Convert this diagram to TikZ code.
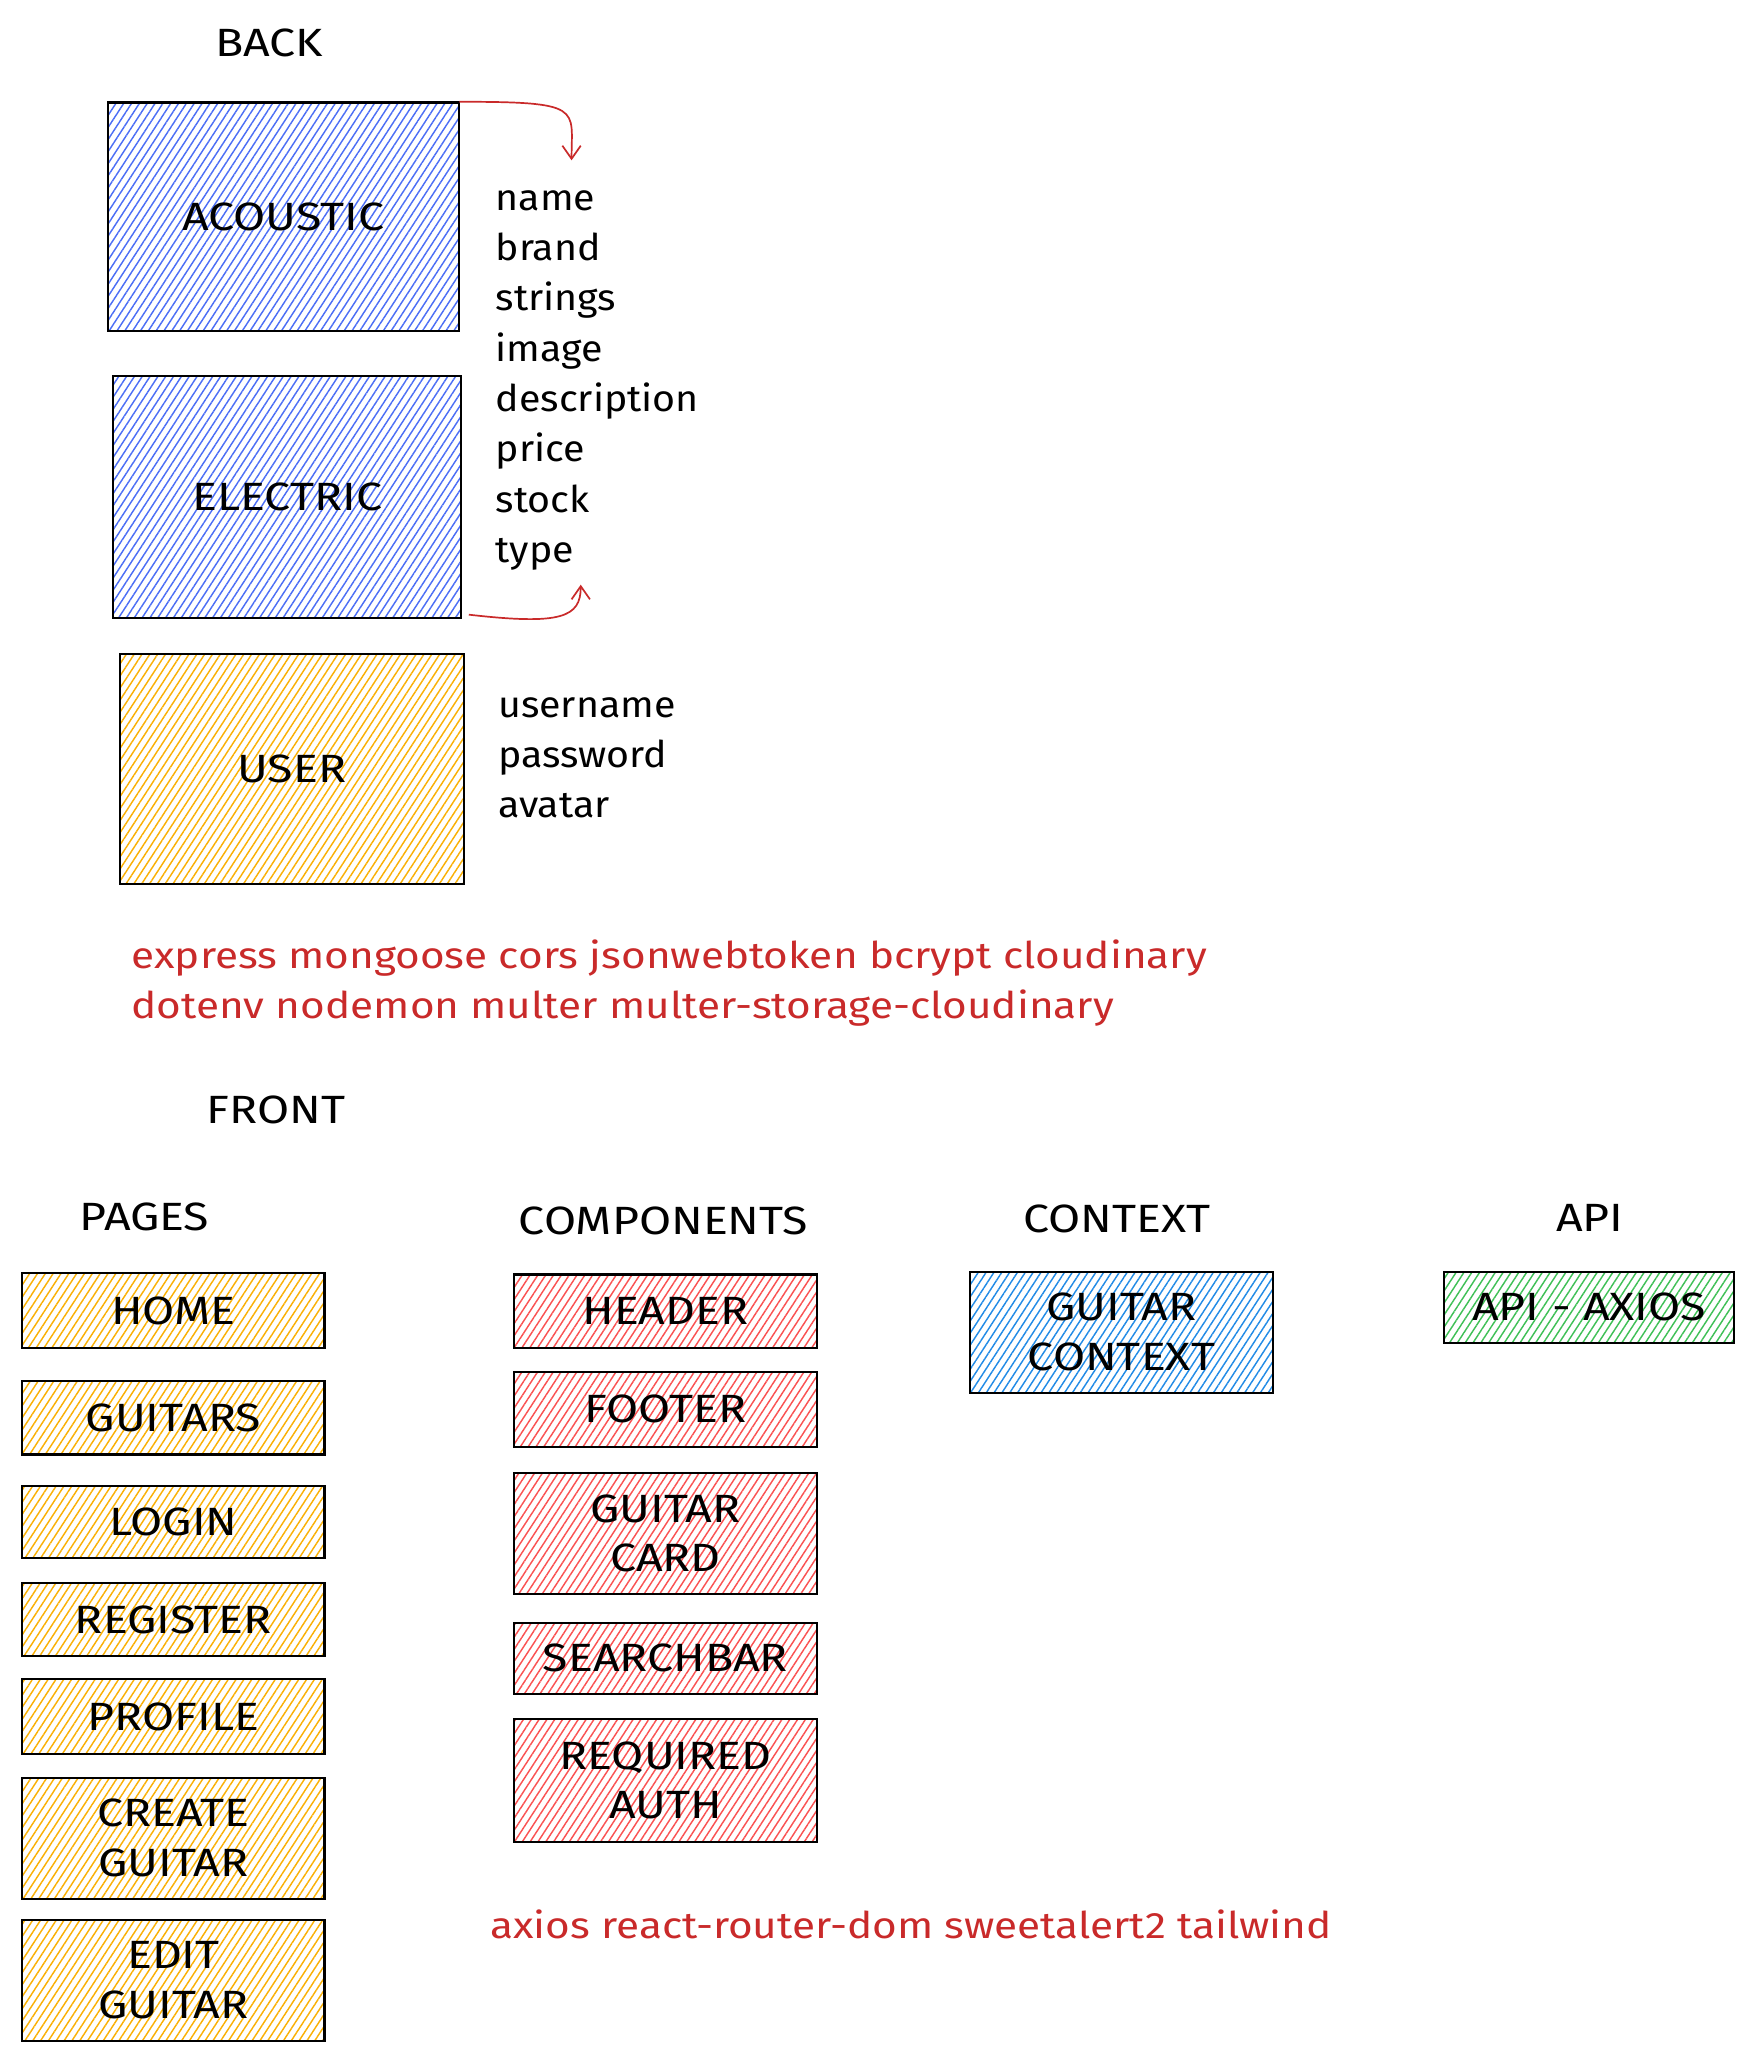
\documentclass[tikz,border=0pt]{standalone}
\usepackage{fontspec}
\setmainfont{Fira Sans}[FakeStretch=1.07]
\newfontfamily\capsfont{Fira Sans}[FakeStretch=1.18]
\newfontfamily\depsfont{Fira Sans}[FakeStretch=1.15]
\usetikzlibrary{patterns.meta,arrows.meta}
\definecolor{hatchindigo}{HTML}{4C6EF5}
\definecolor{hatchyellow}{HTML}{FAB005}
\definecolor{hatchred}{HTML}{FA5252}
\definecolor{hatchsky}{HTML}{228BE6}
\definecolor{hatchgreen}{HTML}{40C057}
\definecolor{inkred}{HTML}{C92A2A}
\newcommand\bigtext{\capsfont\fontsize{30}{38}\selectfont}
\tikzset{box/.style={draw=black,line width=1.6pt,inner sep=0pt,align=center,font=\bigtext},
         hatch/.style={pattern={Lines[angle=57,distance=5pt,line width=1.1pt]},pattern color=#1},
         indigobox/.style={box,hatch=hatchindigo},
         yellowbox/.style={box,hatch=hatchyellow},
         redbox/.style={box,hatch=hatchred},
         skybox/.style={box,hatch=hatchsky},
         greenbox/.style={box,hatch=hatchgreen},
         heading/.style={font=\bigtext},
         field/.style={anchor=base west,inner sep=0pt,font=\fontsize{28}{34}\selectfont},
         deps/.style={field,text=inkred,font=\depsfont\fontsize{28}{34}\selectfont},
         redarrow/.style={draw=inkred,line width=1.3pt,-{Straight Barb[length=10pt,width=14pt]}}
}
\begin{document}
\begin{tikzpicture}[x=1pt,y=-1pt]
  \useasboundingbox (0,0) rectangle (1330,1564);
  % back end
  \node[heading] (back) at (205,33) {BACK};
  \node[indigobox,minimum width=267pt,minimum height=174pt] (acoustic) at (215.5,165) {ACOUSTIC};
  \node[indigobox,minimum width=265pt,minimum height=184pt] (electric) at (218.5,378) {ELECTRIC};
  \node[yellowbox,minimum width=262pt,minimum height=175pt] (user) at (222,585.5) {USER};
  \foreach\f [count=\i] in {name,brand,strings,image,description,price,stock,type}
     \node[field] (field\i) at (377,121.7+38.3*\i) {\f};
  \foreach\f [count=\i] in {username,password,avatar}
     \node[field] (ufield\i) at (379,508+38*\i) {\f};
  \coordinate (tipA) at (435,122);
  \coordinate (tipB) at (442,445);
  \draw[redarrow] (acoustic.north east) .. controls +(95,0) and +(0,-40) .. (tipA);
  \draw[redarrow] ([xshift=5pt,yshift=3pt]electric.south east) .. controls +(70,8) and +(0,25) .. (tipB);
  \node[deps] (backdeps1) at (100,737) {express mongoose cors jsonwebtoken bcrypt cloudinary};
  \node[deps] (backdeps2) at (100,775) {dotenv nodemon multer multer-storage-cloudinary};
  % front end
  \node[heading] (front) at (210,845) {FRONT};
  \node[heading] (pages) at (110,926) {PAGES};
  \node[heading] (components) at (505,929) {COMPONENTS};
  \node[heading] (context) at (850,928) {CONTEXT};
  \node[heading] (api) at (1210,927) {API};
  \foreach\n/\t/\y/\h in {home/HOME/997.5/57,guitars/GUITARS/1079/56,login/LOGIN/1158.5/55,
        register/REGISTER/1232.5/55,profile/PROFILE/1306.5/57,create/{CREATE\\GUITAR}/1399/92,
        edit/{EDIT\\GUITAR}/1507/92}
     \node[yellowbox,minimum width=230pt,minimum height=\h pt] (\n) at (132,\y) {\t};
  \foreach\n/\t/\y/\h in {header/HEADER/998/56,footer/FOOTER/1072.5/57,card/{GUITAR\\CARD}/1167/92,
        searchbar/SEARCHBAR/1262/54,auth/{REQUIRED\\AUTH}/1355/94}
     \node[redbox,minimum width=231pt,minimum height=\h pt] (\n) at (506.5,\y) {\t};
  \node[skybox,minimum width=231pt,minimum height=92pt] (guitarcontext) at (853.5,1014) {GUITAR\\CONTEXT};
  \node[greenbox,minimum width=221pt,minimum height=54pt] (axios) at (1209.5,995) {API - AXIOS};
  \node[deps] (frontdeps) at (373,1475) {axios react-router-dom sweetalert2 tailwind};
\end{tikzpicture}
\end{document}
